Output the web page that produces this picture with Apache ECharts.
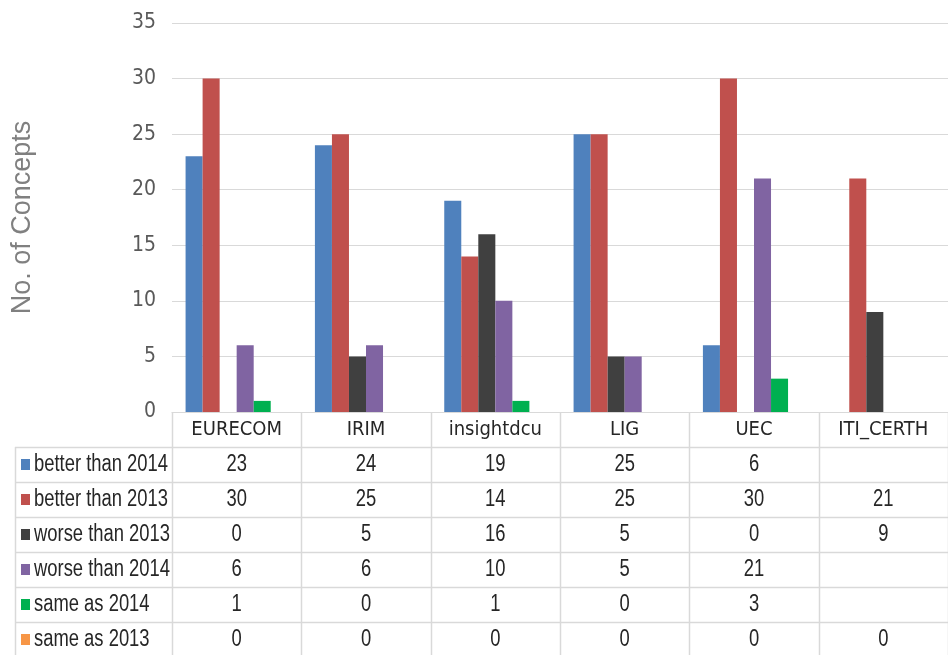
<!DOCTYPE html>
<html>
<head>
<meta charset="utf-8">
<script src="https://cdn.jsdelivr.net/npm/echarts@6/dist/echarts.min.js"></script>
<style>
  html, body { margin: 0; padding: 0; background: #fff; }
  #chart { width: 948px; height: 655px; }
</style>
</head>
<body>
<div id="chart"></div>
<script>
// data
const categories = ['EURECOM', 'IRIM', 'insightdcu', 'LIG', 'UEC', 'ITI_CERTH'];
const seriesNames = ['better than 2014', 'better than 2013', 'worse than 2013', 'worse than 2014', 'same as 2014', 'same as 2013'];
const betterThan2014 = [23, 24, 19, 25, 6, null];
const betterThan2013 = [30, 25, 14, 25, 30, 21];
const worseThan2013 = [0, 5, 16, 5, 0, 9];
const worseThan2014 = [6, 6, 10, 5, 21, null];
const sameAs2014 = [1, 0, 1, 0, 3, null];
const sameAs2013 = [0, 0, 0, 0, 0, 0];
const seriesValues = [betterThan2014, betterThan2013, worseThan2013, worseThan2014, sameAs2014, sameAs2013];
const seriesColors = ['#4F81BD', '#C0504D', '#404040', '#8064A2', '#00B050', '#F79646'];

const axisFont = "'DejaVu Sans Condensed', 'Liberation Sans', sans-serif";
const tableFont = "'Liberation Sans', Arial, sans-serif";
const lineColor = '#d9d9d9';
const textColor = '#262626';

// layout of the data table under the plot
const gridTop = 23;
const gridBottom = 243;
const tableLeft = 15;
const headerH = 35;
const rowH = 35;

const chart = echarts.init(document.getElementById('chart'));

const option = {
    animation: false,
    grid: {
        left: 172,
        right: -13,
        top: gridTop,
        bottom: gridBottom
    },
    xAxis: {
        type: 'category',
        data: categories,
        axisLine: { show: true, lineStyle: { color: lineColor } },
        axisTick: { show: false },
        axisLabel: {
            interval: 0,
            margin: 8,
            fontFamily: axisFont,
            fontSize: 20,
            color: textColor
        }
    },
    yAxis: {
        type: 'value',
        min: 0,
        max: 35,
        interval: 5,
        name: 'No. of Concepts',
        nameLocation: 'middle',
        nameGap: 136,
        nameTextStyle: {
            fontFamily: "'Liberation Sans', Arial, sans-serif",
            fontSize: 27,
            color: '#808080'
        },
        axisLine: { show: false },
        axisTick: { show: false },
        axisLabel: {
            margin: 16,
            fontFamily: axisFont,
            fontSize: 21,
            color: '#595959'
        },
        splitLine: { lineStyle: { color: lineColor, width: 1 } }
    },
    series: seriesNames.map((name, i) => ({
        name: name,
        type: 'bar',
        data: seriesValues[i],
        barGap: '0%',
        barCategoryGap: '21%',
        itemStyle: { color: seriesColors[i] }
    }))
};

chart.setOption(option);

// narrow-looking table text: Liberation Sans squeezed horizontally
const tableText = (text, x, y, align) => ({
    type: 'text',
    x: x,
    y: y,
    scaleX: 0.8,
    style: {
        text: text,
        fontFamily: tableFont,
        fontSize: 23,
        fill: textColor,
        align: align,
        verticalAlign: 'middle'
    }
});

// build the data table from the axis scale
const buildTable = () => {
    const c0 = chart.convertToPixel({ xAxisIndex: 0 }, 0);
    const c1 = chart.convertToPixel({ xAxisIndex: 0 }, 1);
    const band = c1 - c0;
    const plotLeft = c0 - band / 2;
    const axisY = chart.convertToPixel({ yAxisIndex: 0 }, 0);
    const tableTop = axisY + headerH;
    const H = chart.getHeight();
    const W = chart.getWidth();
    const els = [];

    // vertical column borders
    for (let i = 0; i <= categories.length; i++) {
        const x = Math.round(plotLeft + i * band) + 0.5;
        els.push({
            type: 'line',
            shape: { x1: x, y1: axisY, x2: x, y2: H + 5 },
            style: { stroke: lineColor, lineWidth: 1.5 }
        });
    }
    els.push({
        type: 'line',
        shape: { x1: tableLeft + 0.5, y1: tableTop, x2: tableLeft + 0.5, y2: H + 5 },
        style: { stroke: lineColor, lineWidth: 1.5 }
    });

    // horizontal row borders
    for (let k = 0; k <= seriesNames.length; k++) {
        const y = Math.round(tableTop + k * rowH) + 0.5;
        els.push({
            type: 'line',
            shape: { x1: tableLeft, y1: y, x2: W + 5, y2: y },
            style: { stroke: lineColor, lineWidth: 1.5 }
        });
    }

    seriesNames.forEach((name, k) => {
        const yMid = tableTop + k * rowH + rowH / 2;
        els.push({
            type: 'rect',
            shape: { x: tableLeft + 6, y: yMid - 5.5, width: 9, height: 11 },
            style: { fill: seriesColors[k] }
        });
        els.push(tableText(name, tableLeft + 19, yMid, 'left'));
        seriesValues[k].forEach((v, i) => {
            if (v === null) return;
            els.push(tableText(String(v), chart.convertToPixel({ xAxisIndex: 0 }, i), yMid, 'center'));
        });
    });

    chart.setOption({ graphic: { elements: els } });
};

buildTable();
</script>
</body>
</html>
